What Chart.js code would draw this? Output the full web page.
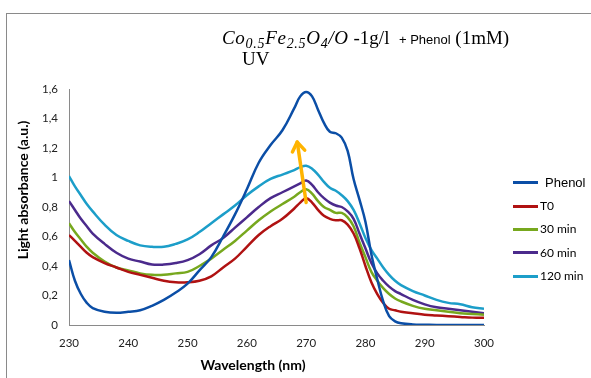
<!DOCTYPE html>
<html><head><meta charset="utf-8">
<script src="https://cdn.jsdelivr.net/npm/chart.js@4.4.1/dist/chart.umd.min.js"></script>
<style>
html,body{margin:0;padding:0;background:#fff;}
#wrap{position:relative;width:591px;height:378px;overflow:hidden;background:#fff;}
#c{position:absolute;left:0;top:0;}
#frame{position:absolute;left:6px;top:13px;width:700px;height:500px;border-top:1px solid #8a8a8a;border-left:1px solid #8a8a8a;}
#title{position:absolute;left:222px;top:28px;font-family:'Liberation Serif',serif;font-size:19px;line-height:19px;white-space:nowrap;color:#000;}
#title i{letter-spacing:0.7px;}
#title sub{font-size:14px;line-height:0;vertical-align:-4px;}
#title .sans{font-family:'Liberation Sans',sans-serif;font-size:13px;}
#uv{position:absolute;left:242px;top:49px;font-family:'Liberation Serif',serif;font-size:19px;line-height:19px;color:#000;}
.lg-line{position:absolute;height:3px;}
.lg-text{position:absolute;white-space:nowrap;color:#000;line-height:16px;height:16px;}
</style>
</head><body>
<div id="wrap">
<canvas id="c" width="591" height="378"></canvas>
<div id="frame"></div>
<div id="title"><i>Co<sub>0.5</sub>Fe<sub>2.5</sub>O<sub>4</sub>/O</i>&nbsp;-1g/l&nbsp; <span class="sans">+ Phenol</span> (1mM)</div>
<div id="uv">UV</div>
<div id="legend"></div>
</div>
<script>
// ---- data ----
const wavelengths = [230,231,232,233,234,236,238,240,242,244,246,248,250,252,254,256,258,260,262,264,266,268,269,270,271,272,273,274,275,276,277,278,279,280,281,282,283,284,285,286,288,290,292,294,296,298,300];
const phenol  = [0.44,0.30,0.21,0.15,0.115,0.09,0.083,0.09,0.10,0.13,0.17,0.22,0.28,0.37,0.46,0.60,0.75,0.92,1.10,1.22,1.32,1.47,1.55,1.58,1.55,1.46,1.37,1.31,1.30,1.27,1.18,0.99,0.85,0.70,0.48,0.31,0.16,0.06,0.025,0.012,0.004,0.002,0,0,0,0,0];
const t0      = [0.61,0.57,0.53,0.49,0.46,0.42,0.39,0.36,0.34,0.32,0.30,0.29,0.29,0.30,0.33,0.39,0.45,0.53,0.61,0.67,0.72,0.79,0.83,0.86,0.83,0.78,0.74,0.72,0.71,0.71,0.68,0.62,0.52,0.40,0.29,0.21,0.15,0.11,0.10,0.09,0.08,0.07,0.065,0.06,0.055,0.05,0.05];
const min30   = [0.69,0.63,0.58,0.53,0.49,0.43,0.39,0.37,0.35,0.34,0.34,0.35,0.36,0.40,0.45,0.51,0.57,0.64,0.71,0.77,0.82,0.87,0.90,0.92,0.89,0.84,0.80,0.78,0.76,0.76,0.73,0.67,0.56,0.46,0.36,0.30,0.25,0.21,0.18,0.16,0.13,0.11,0.10,0.09,0.08,0.075,0.07];
const min60   = [0.84,0.78,0.72,0.67,0.62,0.55,0.49,0.45,0.43,0.41,0.41,0.42,0.44,0.48,0.54,0.59,0.66,0.73,0.80,0.86,0.90,0.94,0.96,0.98,0.95,0.90,0.86,0.83,0.81,0.80,0.77,0.72,0.62,0.52,0.42,0.35,0.30,0.26,0.23,0.21,0.17,0.14,0.12,0.11,0.10,0.09,0.08];
const min120  = [1.01,0.94,0.88,0.82,0.77,0.68,0.61,0.57,0.54,0.53,0.53,0.55,0.58,0.63,0.69,0.75,0.81,0.88,0.94,0.99,1.02,1.05,1.07,1.08,1.06,1.02,0.97,0.93,0.91,0.88,0.84,0.78,0.69,0.59,0.51,0.45,0.39,0.34,0.30,0.27,0.23,0.20,0.17,0.15,0.14,0.12,0.11];
const seriesLabels = ['Phenol','T0','30 min','60 min','120 min'];
const xTicks = [230,240,250,260,270,280,290,300];
const yTicks = [0,0.2,0.4,0.6,0.8,1,1.2,1.4,1.6];
const arrowStart = [270.0, 0.83];
const arrowEnd = [268.5, 1.24];
const xTitle = 'Wavelength (nm)';
const yTitle = 'Light absorbance (a.u.)';

// ---- styles ----
const colors = ['#0b4ea6','#b01212','#77a81e','#4b2a8c','#1c9ec9'];
const arrowColor = '#ffb400';
const allSeries = [phenol,t0,min30,min60,min120];

const datasets = allSeries.map((vals,i)=>({
  label: seriesLabels[i],
  data: wavelengths.map((w,j)=>({x:w,y:vals[j]})),
  borderColor: colors[i],
  backgroundColor: colors[i],
  borderWidth: 2.5,
  pointRadius: 0,
  tension: 0.4,
  fill: false
}));

// legend (HTML)
const legendPos = [182.7,206,229.3,252.7,276];
const lg = document.getElementById('legend');
seriesLabels.forEach((lab,i)=>{
  const l = document.createElement('div');
  l.className='lg-line';
  l.style.left='513px'; l.style.width='25px';
  l.style.top=(legendPos[i]-1.5)+'px';
  l.style.background=colors[i];
  lg.appendChild(l);
  const t = document.createElement('div');
  t.className='lg-text';
  t.textContent=lab;
  if(i===0){ t.style.left='545px'; t.style.fontFamily="'Liberation Sans',sans-serif"; t.style.fontSize='13px'; }
  else { t.style.left='540px'; t.style.fontFamily="Lato,sans-serif"; t.style.fontSize='12px'; }
  t.style.top=(legendPos[i]-8)+'px';
  lg.appendChild(t);
});

const overlay = {
  id:'overlay',
  afterDatasetsDraw(chart){
    const {ctx, scales:{x,y}} = chart;
    const x0=x.getPixelForValue(arrowStart[0]), y0=y.getPixelForValue(arrowStart[1]);
    const x1=x.getPixelForValue(arrowEnd[0]), y1=y.getPixelForValue(arrowEnd[1]);
    ctx.save();
    ctx.strokeStyle=arrowColor; ctx.lineWidth=3.5; ctx.lineCap='round'; ctx.lineJoin='round';
    ctx.beginPath(); ctx.moveTo(x0,y0); ctx.lineTo(x1,y1); ctx.stroke();
    const ang=Math.atan2(y1-y0,x1-x0), L=11, a=0.6;
    ctx.beginPath();
    ctx.moveTo(x1+L*Math.cos(ang+Math.PI-a), y1+L*Math.sin(ang+Math.PI-a));
    ctx.lineTo(x1,y1);
    ctx.lineTo(x1+L*Math.cos(ang+Math.PI+a), y1+L*Math.sin(ang+Math.PI+a));
    ctx.stroke();
    ctx.restore();
  },
  afterDraw(chart){
    const ctx=chart.ctx;
    ctx.save();
    ctx.fillStyle='#000';
    ctx.font='bold 14px Lato, sans-serif';
    ctx.textAlign='center'; ctx.textBaseline='middle';
    ctx.fillText(xTitle,253,365.5);
    ctx.translate(23.5,190); ctx.rotate(-Math.PI/2);
    ctx.fillText(yTitle,0,0);
    ctx.restore();
  }
};

new Chart(document.getElementById('c'),{
  type:'line',
  data:{datasets},
  plugins:[overlay],
  options:{
    responsive:false,
    animation:false,
    layout:{padding:{left:8,right:107,top:89,bottom:0}},
    plugins:{legend:{display:false},tooltip:{enabled:false}},
    scales:{
      x:{
        type:'linear', min:230, max:300,
        afterBuildTicks(s){ s.ticks = xTicks.map(v=>({value:v})); },
        afterFit(s){ s.height=53; },
        grid:{display:false, drawTicks:false},
        border:{display:true,color:'#8a8a8a',width:1},
        ticks:{padding:11,color:'#222',font:{family:'Lato',size:11.5},maxRotation:0,autoSkip:false}
      },
      y:{
        min:0, max:1.6,
        afterBuildTicks(s){ s.ticks = yTicks.map(v=>({value:v})); },
        afterFit(s){ s.width=61; },
        grid:{display:false, drawTicks:false},
        border:{display:true,color:'#8a8a8a',width:1},
        ticks:{padding:11,color:'#222',font:{family:'Lato',size:11.5},
          callback:(v)=>String(Math.round(v*10)/10).replace('.',',')}
      }
    }
  }
});
</script>
</body></html>
